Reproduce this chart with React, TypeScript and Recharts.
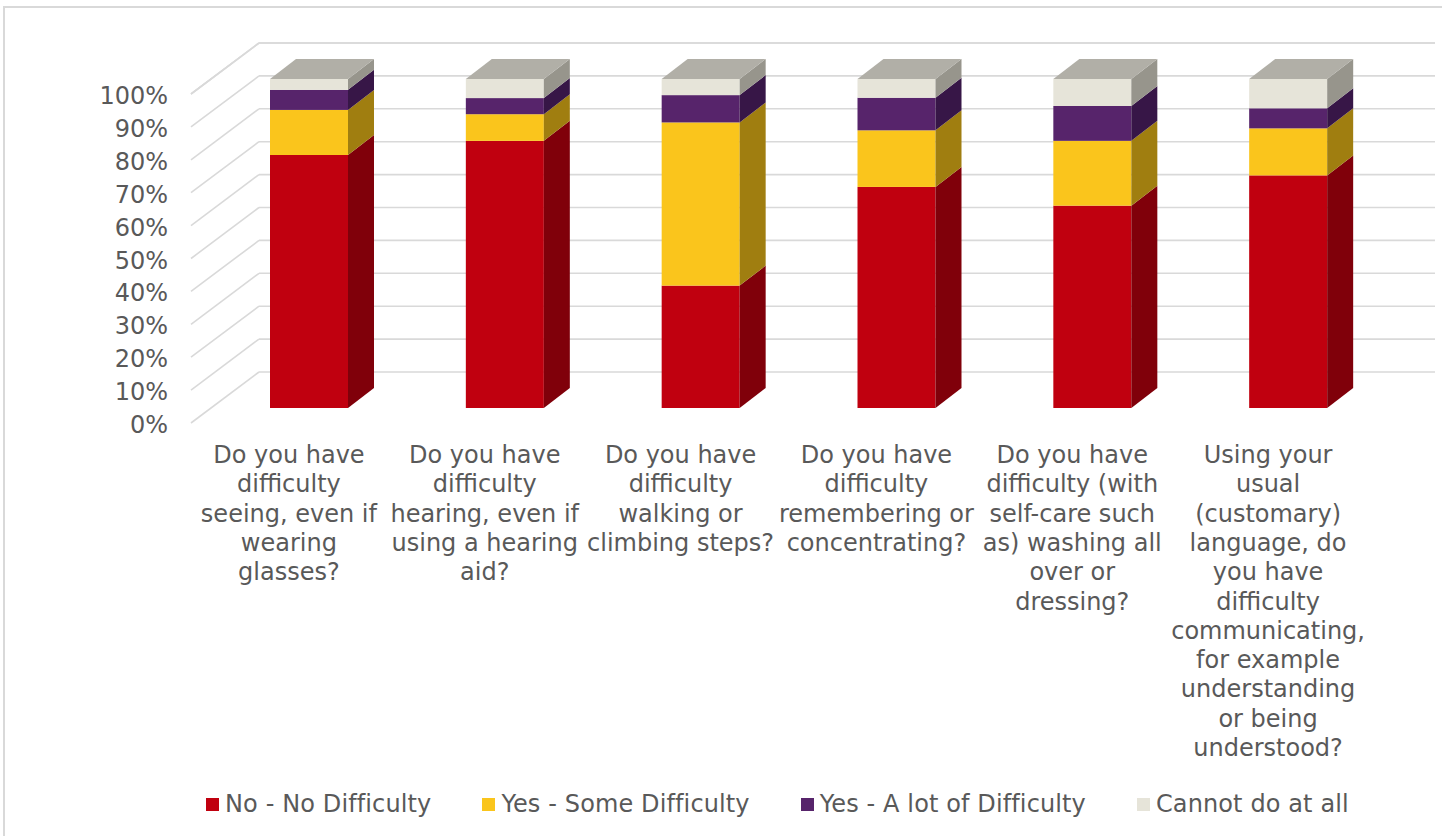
import React from "react";
import { BarChart, Bar, XAxis, YAxis, CartesianGrid } from "recharts";

const categories = [
  "Do you have difficulty seeing, even if wearing glasses?",
  "Do you have difficulty hearing, even if using a hearing aid?",
  "Do you have difficulty walking or climbing steps?",
  "Do you have difficulty remembering or concentrating?",
  "Do you have difficulty (with self-care such as) washing all over or dressing?",
  "Using your usual (customary) language, do you have difficulty communicating, for example understanding or being understood?",
];

// wrapped tick labels, as they break in the original
const tickLines = [
  ["Do you have", "difficulty", "seeing, even if", "wearing", "glasses?"],
  ["Do you have", "difficulty", "hearing, even if", "using a hearing", "aid?"],
  ["Do you have", "difficulty", "walking or", "climbing steps?"],
  ["Do you have", "difficulty", "remembering or", "concentrating?"],
  ["Do you have", "difficulty (with", "self-care such", "as) washing all", "over or", "dressing?"],
  [
    "Using your",
    "usual",
    "(customary)",
    "language, do",
    "you have",
    "difficulty",
    "communicating,",
    "for example",
    "understanding",
    "or being",
    "understood?",
  ],
];

const seriesNames = [
  "No - No Difficulty",
  "Yes - Some Difficulty",
  "Yes - A lot of Difficulty",
  "Cannot do at all",
];
const noDifficulty = [76.9, 81.2, 37.2, 67.2, 61.5, 70.7];
const someDifficulty = [13.7, 8.1, 49.6, 17.2, 19.7, 14.3];
const lotOfDifficulty = [6.1, 4.9, 8.3, 9.9, 10.6, 6.1];
const cannotDo = [3.3, 5.8, 4.9, 5.7, 8.2, 8.9];

const yTicks = [0, 10, 20, 30, 40, 50, 60, 70, 80, 90, 100];

const seriesKeys = ["no", "some", "lot", "cannot"];
const frontColors = ["#c0000f", "#fac51c", "#57246b", "#e6e4d9"];
const sideColors = ["#80000a", "#a07e10", "#371647", "#97958c"];
const topColor = "#b1afa7";

const data = categories.map((name, i) => ({
  name,
  no: noDifficulty[i],
  some: someDifficulty[i],
  lot: lotOfDifficulty[i],
  cannot: cannotDo[i],
}));

const TEXT = "#595959";
const GRID = "#d9d9d9";
const FONT = "'DejaVu Sans', Verdana, sans-serif";

// oblique depth of the boxes
const DX = 26;
const DY = -20;

function Box3D(props: any) {
  const { x, y, width, height, fill, side, top } = props;
  if (!height || height <= 0) return null;
  const r = x + width;
  const b = y + height;
  return (
    <g>
      <rect x={x} y={y} width={width} height={height} fill={fill} />
      <polygon
        points={`${r},${y} ${r + DX},${y + DY} ${r + DX},${b + DY} ${r},${b}`}
        fill={side}
      />
      {top && (
        <polygon
          points={`${x},${y} ${x + DX},${y + DY} ${r + DX},${y + DY} ${r},${y}`}
          fill={top}
        />
      )}
    </g>
  );
}

// left wall slant + back wall line for each y tick
const gridLine = (p: any) => {
  const { x1, x2, y1, index } = p;
  return (
    <g key={`grid-${index}`}>
      <line x1={x1 - 20} y1={y1 + 15} x2={x1 + 48} y2={y1 - 36} stroke={GRID} strokeWidth={1.6} />
      <line x1={x1 + 48} y1={y1 - 36} x2={x2 + 49} y2={y1 - 36} stroke={GRID} strokeWidth={1.6} />
    </g>
  );
};

const XTick = (p: any) => {
  const { x, y, payload } = p;
  const lines = tickLines[categories.indexOf(payload.value)] || [];
  return (
    <text x={x - 20} y={y + 55} textAnchor="middle" fill={TEXT} fontSize={24} fontFamily={FONT}>
      {lines.map((l, i) => (
        <tspan key={i} x={x - 20} dy={i === 0 ? 0 : 29.3}>
          {l}
        </tspan>
      ))}
    </text>
  );
};

const YTick = (p: any) => {
  const { x, y, payload } = p;
  return (
    <text
      x={x - 43}
      y={y + 17}
      textAnchor="end"
      dominantBaseline="central"
      fill={TEXT}
      fontSize={24}
      fontFamily={FONT}
    >
      {`${payload.value}%`}
    </text>
  );
};

export default function App() {
  return (
    <div
      style={{
        position: "absolute",
        left: 0,
        top: 0,
        width: 1442,
        height: 836,
        overflow: "hidden",
        background: "#fff",
        fontFamily: FONT,
      }}
    >
      <div
        style={{
          position: "absolute",
          left: 3,
          top: 6,
          width: 1500,
          height: 900,
          border: `2px solid ${GRID}`,
        }}
      />
      <BarChart
        width={1442}
        height={836}
        data={data}
        margin={{ top: 79, right: 56, left: 0, bottom: 0 }}
        style={{ position: "absolute", left: 0, top: 0 }}
      >
        <CartesianGrid vertical={false} horizontal={gridLine} />
        <XAxis
          dataKey="name"
          height={428}
          interval={0}
          axisLine={false}
          tickLine={false}
          tickSize={0}
          tickMargin={0}
          tick={<XTick />}
        />
        <YAxis
          width={211}
          domain={[0, 100]}
          ticks={yTicks}
          axisLine={false}
          tickLine={false}
          tickSize={0}
          tickMargin={0}
          tick={<YTick />}
        />
        {seriesKeys.map((k, i) => (
          <Bar
            key={k}
            dataKey={k}
            name={seriesNames[i]}
            stackId="a"
            barSize={78}
            fill={frontColors[i]}
            isAnimationActive={false}
            shape={(sp: any) => (
              <Box3D
                {...sp}
                fill={frontColors[i]}
                side={sideColors[i]}
                top={i === seriesKeys.length - 1 ? topColor : undefined}
              />
            )}
          />
        ))}
      </BarChart>
      <div
        style={{
          position: "absolute",
          left: 206,
          top: 790,
          display: "flex",
          alignItems: "center",
          fontSize: 24,
          lineHeight: "29px",
          letterSpacing: 0.12,
          color: TEXT,
          whiteSpace: "nowrap",
        }}
      >
        {seriesNames.map((n, i) => (
          <div key={n} style={{ display: "flex", alignItems: "center", marginRight: 51 }}>
            <span
              style={{
                display: "inline-block",
                width: 13,
                height: 13,
                background: frontColors[i],
                marginRight: 6,
              }}
            />
            <span>{n}</span>
          </div>
        ))}
      </div>
    </div>
  );
}
